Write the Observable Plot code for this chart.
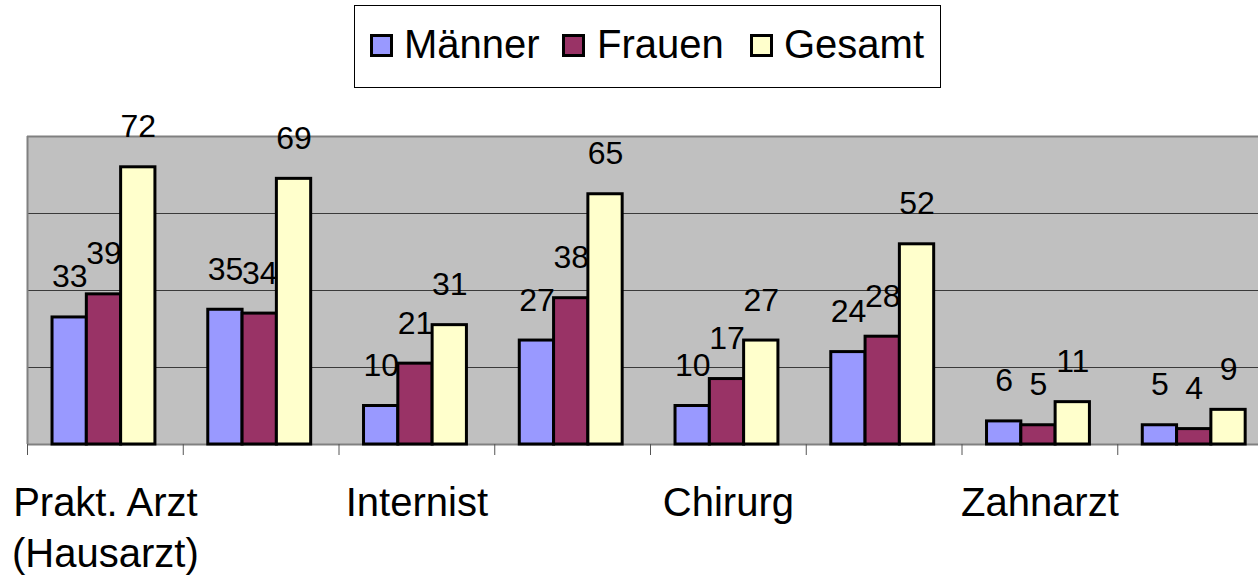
<!DOCTYPE html>
<html>
<head>
<meta charset="utf-8">
<script src="https://cdn.jsdelivr.net/npm/d3@7"></script>
<script src="https://cdn.jsdelivr.net/npm/@observablehq/plot@0.6"></script>
<style>
  html, body { margin: 0; padding: 0; background: #fff; overflow: hidden; width: 1258px; height: 579px; }
  body { font-family: "Liberation Sans", Arial, sans-serif; }
  #legend { position: relative; width: 1258px; height: 100px; }
  #legend .box { position: absolute; left: 354px; top: 5px; width: 587px; height: 83px; box-sizing: border-box; border: 1.5px solid #000; background: #fff; }
  #legend .sw { position: absolute; top: 34px; width: 23px; height: 23px; box-sizing: border-box; border: 3px solid #000; }
  #legend .lb { position: absolute; top: 24px; font-size: 40px; line-height: 40px; color: #000; white-space: nowrap; }
  #chart svg { display: block; }
</style>
</head>
<body>
<div id="legend"></div>
<div id="chart"></div>
<script>
// ---- data ----
const categories = ["Prakt. Arzt\n(Hausarzt)", "", "Internist", "", "Chirurg", "", "Zahnarzt", ""];
const series = ["Männer", "Frauen", "Gesamt"];
const maenner = [33, 35, 10, 27, 10, 24, 6, 5];
const frauen  = [39, 34, 21, 38, 17, 28, 5, 4];
const gesamt  = [72, 69, 31, 65, 27, 52, 11, 9];
const colors  = ["#9999ff", "#993366", "#ffffcc"];
const gridTicks = [20, 40, 60];
const yMax = 80;

const values = [maenner, frauen, gesamt];
const rows = [];
series.forEach((s, k) => values[k].forEach((v, i) => rows.push({i, series: s, k, value: v})));
const idx = categories.map((_, i) => i);

// ---- legend (HTML, above the SVG) ----
const legend = document.getElementById("legend");
const box = document.createElement("div");
box.className = "box";
legend.appendChild(box);
const swLeft = [370, 562, 750];
const lbLeft = [404, 597, 784];
series.forEach((s, k) => {
  const sw = document.createElement("div");
  sw.className = "sw";
  sw.style.left = swLeft[k] + "px";
  sw.style.background = colors[k];
  legend.appendChild(sw);
  const lb = document.createElement("div");
  lb.className = "lb";
  lb.style.left = lbLeft[k] + "px";
  lb.textContent = s;
  legend.appendChild(lb);
});

// ---- chart ----
const W = 1273, H = 479, mL = 27, mT = 36, mB = 135;
const step = (W - mL) / categories.length;
const barW = 34.3;
const inset = (step - barW) / 2;
const shift = -1.4;

const marks = [
  Plot.frame({fill: "#c0c0c0", stroke: null}),
  Plot.ruleY(gridTicks, {stroke: "#3a3a3a", strokeWidth: 1}),
  Plot.ruleY([yMax], {stroke: "#808080", strokeWidth: 2}),
  Plot.ruleY([0], {stroke: "#808080", strokeWidth: 2}),
  Plot.ruleX([0], {x: d => d, dx: -step / 2, stroke: "#808080", strokeWidth: 2}),
  Plot.ruleX(idx, {x: d => d, dx: -step / 2, insetTop: H - mT - mB, insetBottom: -11, stroke: "#555", strokeWidth: 1})
];
series.forEach((s, k) => {
  const data = rows.filter(d => d.k === k);
  const dx = (k - 1) * barW + shift;
  marks.push(Plot.barY(data, {x: "i", y: "value", fill: colors[k], stroke: "#000", strokeWidth: 3, insetLeft: inset, insetRight: inset, dx}));
});
series.forEach((s, k) => {
  const data = rows.filter(d => d.k === k);
  const dx = (k - 1) * barW + shift;
  marks.push(Plot.text(data, {x: "i", y: "value", text: d => String(d.value), dx, dy: -30, lineAnchor: "bottom", fontSize: 32, fill: "#000"}));
});
marks.push(Plot.text(idx, {x: d => d, text: d => categories[d], frameAnchor: "bottom", lineAnchor: "top", dy: 35, fontSize: 40, lineHeight: 1.275, fill: "#000"}));

const chart = Plot.plot({
  width: W,
  height: H,
  marginLeft: mL,
  marginRight: 0,
  marginTop: mT,
  marginBottom: mB,
  x: {type: "band", domain: idx, padding: 0, round: false, axis: null},
  y: {domain: [0, yMax], axis: null},
  style: {maxWidth: "none", background: "transparent", fontFamily: "'Liberation Sans', Arial, sans-serif", overflow: "visible"},
  marks
});
document.getElementById("chart").appendChild(chart);
</script>
</body>
</html>
